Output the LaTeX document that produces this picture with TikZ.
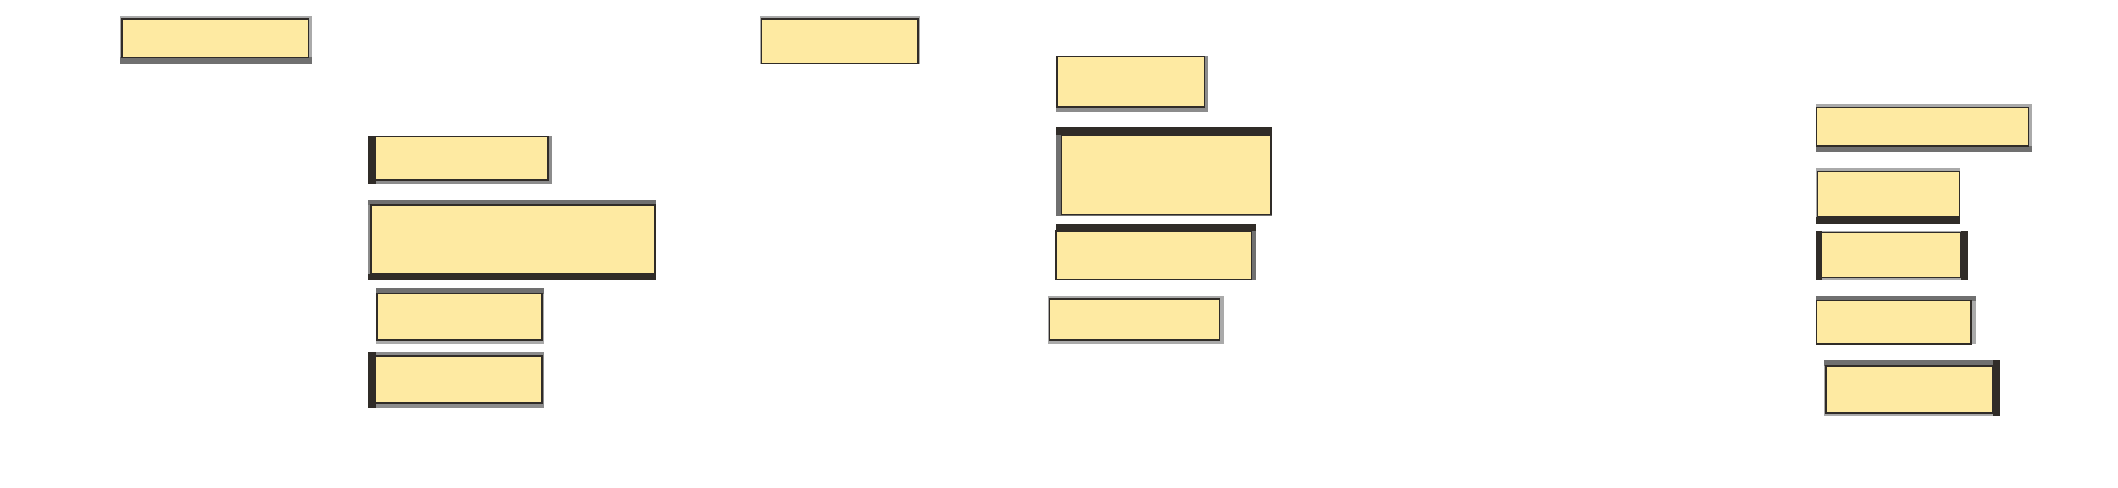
\documentclass[tikz,border=0pt]{standalone}
\usepackage{tikz}
\usetikzlibrary{fit}
\definecolor{panelyellow}{RGB}{254, 234, 162}
\definecolor{paleband}{RGB}{170, 170, 170}
\definecolor{greyband}{RGB}{140, 140, 140}
\definecolor{midband}{RGB}{112, 112, 112}
\definecolor{darkband}{RGB}{48, 44, 40}
\tikzset{panel/.style={draw=darkband, fill=panelyellow, line width=0.5pt, inner sep=0pt, outer sep=0pt}}

\begin{document}
\begin{tikzpicture}[x=0.01cm, y=-0.01cm]
    \useasboundingbox (0,0) rectangle (2118,488);
    % left column
    \fill[paleband] (120,16) rectangle (311.5,64);
    \fill[midband] (120,57.5) rectangle (311.5,64);
    \node[panel, fit={(122,19) (308.5,57.5)}] (boxA) {};
    \fill[greyband] (368,136) rectangle (552,184);
    \fill[darkband] (368,136) rectangle (375.5,184);
    \node[panel, fit={(375.5,136.5) (548,180)}] (boxB) {};
    \fill[greyband] (368,200) rectangle (656,280);
    \fill[midband] (368,200) rectangle (656,205);
    \fill[darkband] (368,273.5) rectangle (656,280);
    \node[panel, fit={(371,205) (655,273.5)}] (boxC) {};
    \fill[paleband] (375.5,288) rectangle (544,343.5);
    \fill[midband] (375.5,288) rectangle (544,293.5);
    \node[panel, fit={(377,293.5) (542,340)}] (boxD) {};
    \fill[greyband] (368,351.5) rectangle (544,408);
    \fill[darkband] (368,351.5) rectangle (375.5,408);
    \node[panel, fit={(375.5,356) (542,403)}] (boxE) {};
    % middle column
    \fill[paleband] (759.5,16) rectangle (919.5,64);
    \node[panel, fit={(761.5,19) (918,63.5)}] (boxF) {};
    \fill[greyband] (1056,56) rectangle (1208,112);
    \node[panel, fit={(1057,56.5) (1204.5,107)}] (boxG) {};
    \fill[midband] (1056,127.5) rectangle (1272,216);
    \fill[darkband] (1056,127.5) rectangle (1272,135);
    \node[panel, fit={(1061.5,135) (1271,214.5)}] (boxH) {};
    \fill[midband] (1056,224) rectangle (1256,280);
    \fill[darkband] (1056,224) rectangle (1256,231);
    \node[panel, fit={(1056,231) (1251.5,279.5)}] (boxI) {};
    \fill[paleband] (1048,296) rectangle (1224,344);
    \node[panel, fit={(1049.5,299) (1219.5,340)}] (boxJ) {};
    % right column
    \fill[paleband] (1816,104) rectangle (2032,152);
    \fill[midband] (1816,146) rectangle (2032,152);
    \node[panel, fit={(1816.5,107.5) (2028.5,146)}] (boxK) {};
    \fill[paleband] (1816,168) rectangle (1960,224);
    \fill[darkband] (1816,217) rectangle (1960,224);
    \node[panel, fit={(1817.5,171.5) (1959.5,217)}] (boxL) {};
    \fill[paleband] (1816,231.5) rectangle (1968,280);
    \fill[darkband] (1816,231.5) rectangle (1821.5,280);
    \fill[darkband] (1961,231.5) rectangle (1968,280);
    \node[panel, fit={(1821.5,232.5) (1961,277.5)}] (boxM) {};
    \fill[paleband] (1816,296) rectangle (1976,344);
    \fill[midband] (1816,296) rectangle (1976,300.5);
    \node[panel, fit={(1816.5,300.5) (1971,344)}] (boxN) {};
    \fill[paleband] (1824,360) rectangle (2000,416);
    \fill[midband] (1824,360) rectangle (2000,366);
    \fill[darkband] (1992.5,360) rectangle (2000,416);
    \node[panel, fit={(1826,366) (1992.5,413)}] (boxO) {};
\end{tikzpicture}
\end{document}
